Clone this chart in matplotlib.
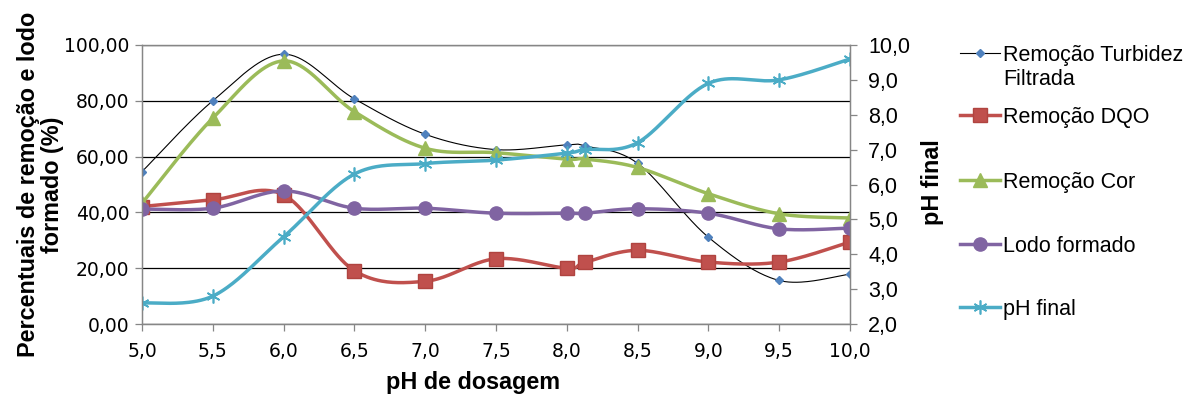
import numpy as np
import matplotlib
matplotlib.use("Agg")
import matplotlib.pyplot as plt
from matplotlib.lines import Line2D
from matplotlib.ticker import FuncFormatter, MultipleLocator

# pH de dosagem
ph_dosagem = [5.0, 5.5, 6.0, 6.5, 7.0, 7.5, 8.0, 8.13, 8.5, 9.0, 9.5, 10.0]

# percentuais (eixo esquerdo)
rem_turbidez = [54.6, 80.0, 96.7, 80.7, 68.0, 62.5, 64.2, 63.8, 57.6, 31.1, 15.6, 17.9]
rem_dqo = [42.1, 44.5, 46.3, 19.1, 15.3, 23.4, 20.0, 22.1, 26.4, 22.2, 22.2, 29.4]
rem_cor = [43.3, 73.8, 94.3, 76.1, 63.0, 61.4, 59.1, 59.1, 56.1, 46.7, 39.5, 38.0]
lodo = [41.2, 41.5, 47.7, 41.5, 41.5, 39.7, 39.7, 39.7, 41.3, 39.7, 34.1, 34.4]

# pH final (eixo direito)
ph_final = [2.6, 2.8, 4.5, 6.3, 6.6, 6.7, 6.9, 7.0, 7.2, 8.9, 9.0, 9.6]

labels = ["Remoção Turbidez\nFiltrada", "Remoção DQO", "Remoção Cor",
          "Lodo formado", "pH final"]

BLUE = "#4F81BD"
RED = "#C0504D"
GREEN = "#9BBB59"
PURPLE = "#8064A2"
CYAN = "#4BACC6"
SPINE = "#868686"


def smooth(xs, ys, n=40):
    # curva suavizada tipo Excel (Bezier com pontos de controle de Catmull-Rom)
    pts = np.column_stack([xs, ys]).astype(float)
    p = np.vstack([pts[0], pts, pts[-1]])
    t = np.linspace(0, 1, n)[:, None]
    segs = []
    for i in range(1, len(p) - 2):
        p0, p1, p2, p3 = p[i - 1], p[i], p[i + 1], p[i + 2]
        c1 = p1 + (p2 - p0) / 6
        c2 = p2 - (p3 - p1) / 6
        seg = ((1 - t) ** 3) * p1 + 3 * (1 - t) ** 2 * t * c1 \
            + 3 * (1 - t) * t ** 2 * c2 + t ** 3 * p2
        segs.append(seg)
    c = np.vstack(segs)
    return c[:, 0], c[:, 1]


fig = plt.figure(figsize=(11.94, 3.99), dpi=100)
W, H = 1194, 399
ax = fig.add_axes([142 / W, 1 - 324 / H, 708 / W, 279 / H])
ax2 = ax.twinx()

styles = [
    (dict(color="black", lw=0.8), dict(marker="D", ms=4.2, color=BLUE, mec=BLUE)),
    (dict(color=RED, lw=2.5), dict(marker="s", ms=9.5, color=RED, mec="#b04440")),
    (dict(color=GREEN, lw=2.5), dict(marker="^", ms=10, color=GREEN, mec=GREEN)),
    (dict(color=PURPLE, lw=2.5), dict(marker="o", ms=9.5, color=PURPLE, mec=PURPLE)),
    (dict(color=CYAN, lw=2.5), dict(marker=(6, 2, 0), ms=10, color=CYAN, mec=CYAN, mew=1.2)),
]

for vals, (lst, mst) in zip([rem_turbidez, rem_dqo, rem_cor, lodo], styles[:4]):
    sx, sy = smooth(ph_dosagem, vals)
    ax.plot(sx, sy, solid_capstyle="round", **lst)
    ax.plot(ph_dosagem, vals, ls="none", **mst)

sx, sy = smooth(ph_dosagem, ph_final)
ax2.plot(sx, sy, solid_capstyle="round", **styles[4][0])
ax2.plot(ph_dosagem, ph_final, ls="none", **styles[4][1])

ax.set_xlim(5, 10)
ax.set_ylim(0, 100)
ax2.set_ylim(2, 10)
ax.xaxis.set_major_locator(MultipleLocator(0.5))
ax.yaxis.set_major_locator(MultipleLocator(20))
ax2.yaxis.set_major_locator(MultipleLocator(1))
ax.xaxis.set_major_formatter(FuncFormatter(lambda v, p: f"{v:.1f}".replace(".", ",")))
ax.yaxis.set_major_formatter(FuncFormatter(lambda v, p: f"{v:.2f}".replace(".", ",")))
ax2.yaxis.set_major_formatter(FuncFormatter(lambda v, p: f"{v:.1f}".replace(".", ",")))

ax.grid(axis="y", color="black", lw=0.9)
ax.set_axisbelow(True)
for a in (ax, ax2):
    for s in a.spines.values():
        s.set_color(SPINE)
        s.set_linewidth(0.9)
ax.spines["top"].set_color("#a0a0a0")
ax.tick_params(axis="both", direction="out", length=5, width=0.9, color=SPINE,
               labelsize=13.5, pad=4)
ax.tick_params(axis="x", pad=8)
ax2.tick_params(axis="y", direction="out", length=5, width=0.9, color=SPINE,
                labelsize=15.5, pad=8)
for t in ax2.get_yticklabels():
    t.set_family("Liberation Sans")

lab_font = dict(family="Liberation Sans", fontweight="bold", fontsize=16.8)
ax.set_ylabel("Percentuais de remoção e lodo\nformado (%)", linespacing=1.05,
              **lab_font)
ax.yaxis.set_label_coords((64 - 142) / 708, 0.5)
ax.set_xlabel("pH de dosagem", **lab_font)
ax.xaxis.set_label_coords((473 - 142) / 708, (324 - 371) / 279)
ax2.set_ylabel("pH final", **lab_font)
ax2.yaxis.set_label_coords((921 - 142) / 708, (324 - 182) / 279)

# legenda: marcador na primeira linha de cada rótulo
entry_y = [53, 115, 180, 244, 307]
line_step = 24
for (lst, mst), lab, yy in zip(styles, labels, entry_y):
    fy = 1 - yy / H
    fig.add_artist(Line2D([960 / W, 1000 / W], [fy, fy], transform=fig.transFigure, **lst))
    fig.add_artist(Line2D([980 / W], [fy], transform=fig.transFigure, ls="none", **mst))
    for k, part in enumerate(lab.split("\n")):
        fig.text(1003 / W, 1 - (yy + k * line_step) / H, part,
                 family="Liberation Sans", fontsize=15.5,
                 va="center_baseline", ha="left")

fig.savefig("out.png", dpi=100)
